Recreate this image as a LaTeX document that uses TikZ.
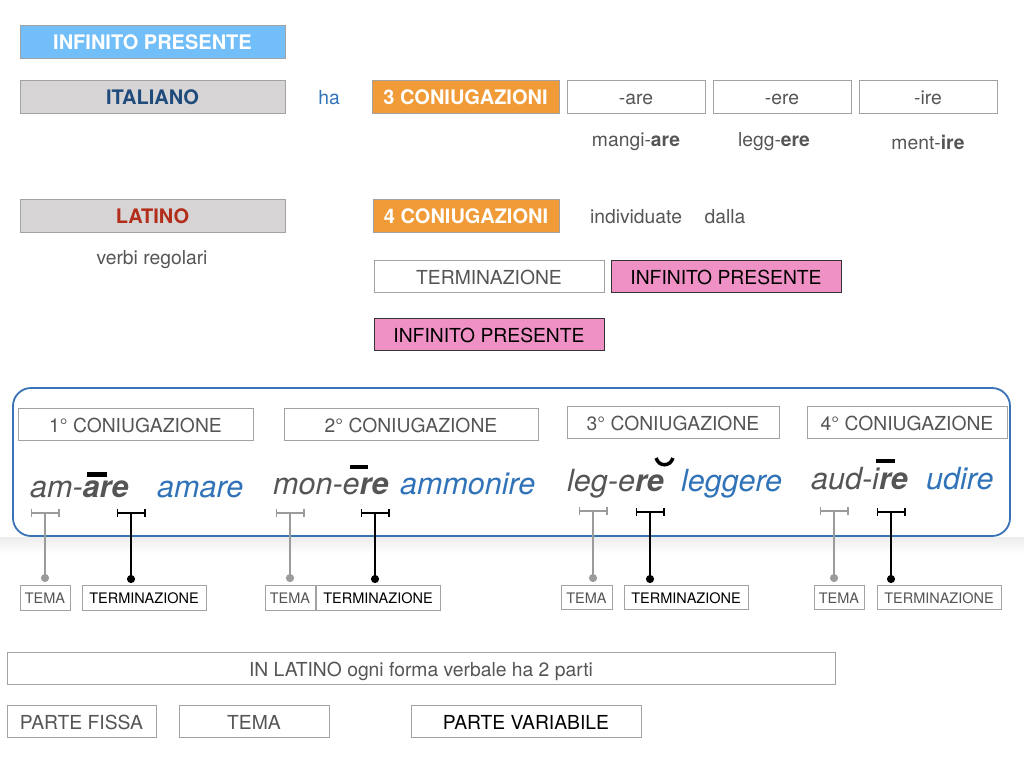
\documentclass[tikz,border=0pt]{standalone}
\usepackage{fontspec}
\setmainfont{TeX Gyre Heros}
\usetikzlibrary{arrows.meta}

\definecolor{skyblue}{HTML}{72BEF8}
\definecolor{panelgray}{HTML}{D6D4D5}
\definecolor{boxline}{HTML}{A2A2A2}
\definecolor{orangebox}{HTML}{F09B38}
\definecolor{pinkbox}{HTML}{EF91C5}
\definecolor{txtgray}{HTML}{555555}
\definecolor{lightgray}{HTML}{9B9B9B}
\definecolor{itablue}{HTML}{3173B9}
\definecolor{framblue}{HTML}{3A73B5}
\definecolor{navytxt}{HTML}{1F4A7C}
\definecolor{redtxt}{HTML}{B22D1A}

\begin{document}
\begin{tikzpicture}[x=1pt,y=-1pt,
  box/.style={draw=boxline,line width=0.8pt,fill=white,inner sep=0pt,
    minimum height=33pt,text height=16.9pt,text depth=0pt,text=txtgray,font=\fontsize{19.3}{21}\selectfont},
  headbox/.style={box,text height=16.6pt,font=\fontsize{20}{22}\selectfont\bfseries},
  smallbox/.style={box,minimum height=24.5pt,text height=11.8pt,font=\fontsize{14.5}{16}\selectfont},
  plain/.style={inner sep=0pt,text=txtgray,font=\fontsize{19.3}{21}\selectfont},
  latword/.style={inner sep=0pt,anchor=base west,text=txtgray,font=\fontsize{30.5}{32}\selectfont\itshape},
  itword/.style={latword,text=itablue},
  temabar/.style={draw=lightgray,line width=1.8pt,{Bar[width=8pt]}-{Bar[width=8pt]}},
  termbar/.style={temabar,draw=black},
  temalink/.style={draw=lightgray,line width=1.8pt,-{Circle[length=8pt]}},
  termlink/.style={temalink,draw=black}]

\useasboundingbox (0,0) rectangle (1024,768);

% italiano
\node[headbox,fill=skyblue,text=white,minimum width=265pt] (infpres) at (152.5,41.5) {INFINITO PRESENTE};
\node[headbox,fill=panelgray,text=navytxt,minimum width=265pt] (italiano) at (152.5,96.5) {ITALIANO};
\node[plain,text=itablue] (ha) at (329,98) {ha};
\node[headbox,fill=orangebox,text=white,minimum width=187pt] (tre) at (465.5,96.5) {3 CONIUGAZIONI};
\node[box,minimum width=138pt] (are) at (636,96.5) {-are};
\node[box,minimum width=138pt] (ere) at (782,96.5) {-ere};
\node[box,minimum width=138pt] (ire) at (928,96.5) {-ire};
\node[plain] (mangiare) at (636,142) {mangi-\textbf{are}};
\node[plain] (leggere) at (774,142) {legg-\textbf{ere}};
\node[plain] (mentire) at (928,142) {ment-\textbf{ire}};

% latino
\node[headbox,fill=panelgray,text=redtxt,minimum width=265pt] (latino) at (152.5,215.5) {LATINO};
\node[plain] (regolari) at (152,260) {verbi regolari};
\node[headbox,fill=orangebox,text=white,minimum width=186pt] (quattro) at (466,215.5) {4 CONIUGAZIONI};
\node[plain] (individuate) at (636,217) {individuate};
\node[plain] (dalla) at (725,217) {dalla};
\node[box,minimum width=230pt,minimum height=32pt] (termin) at (489,276) {TERMINAZIONE};
\node[box,draw=black!80,fill=pinkbox,text=black,minimum width=230pt,minimum height=32pt] (infpa) at (726,276) {INFINITO PRESENTE};
\node[box,draw=black!80,fill=pinkbox,text=black,minimum width=230pt,minimum height=32pt] (infpb) at (489,334) {INFINITO PRESENTE};

% riquadro delle coniugazioni
\shade[top color=black!7,bottom color=white] (0,537) rectangle (1024,554);
\draw[framblue,line width=1.8pt,fill=white,rounded corners=18pt] (13,388) rectangle (1010,536);
\node[box,minimum width=235pt,minimum height=32pt] (conj1) at (135.5,424) {1° CONIUGAZIONE};
\node[box,minimum width=254pt,minimum height=32pt] (conj2) at (411,424) {2° CONIUGAZIONE};
\node[box,minimum width=212pt,minimum height=32pt] (conj3) at (673,422) {3° CONIUGAZIONE};
\node[box,minimum width=200pt,minimum height=32pt] (conj4) at (907,422) {4° CONIUGAZIONE};

\node[latword] (amare) at (30,497) {am-\textbf{are}};
\node[itword] (amareit) at (157,497) {amare};
\node[latword] (monere) at (273,494) {mon-e\textbf{re}};
\node[itword] (monereit) at (400,494) {ammonire};
\node[latword] (legere) at (567,491) {leg-e\textbf{re}};
\node[itword] (legereit) at (681,491) {leggere};
\node[latword] (audire) at (811,489) {aud-i\textbf{re}};
\node[itword] (audireit) at (926,489) {udire};

% quantita
\draw[line width=4.5pt] (87,474.5) -- (107,474.5);
\draw[line width=4.5pt] (350,467) -- (368,467);
\draw[line width=3.5pt] (656,458) .. controls (659,467) and (670,467) .. (673,458);
\draw[line width=4.5pt] (876,461) -- (895,461);

% tema / terminazione
\node[smallbox,minimum width=50pt] (tema1) at (45,598) {TEMA};
\node[smallbox,minimum width=124pt,text=black] (term1) at (144,598) {TERMINAZIONE};
\node[smallbox,minimum width=50pt] (tema2) at (290,598) {TEMA};
\node[smallbox,minimum width=124pt,text=black] (term2) at (378,598) {TERMINAZIONE};
\node[smallbox,minimum width=51pt] (tema3) at (586.5,597.5) {TEMA};
\node[smallbox,minimum width=124pt,text=black] (term3) at (686,597.5) {TERMINAZIONE};
\node[smallbox,minimum width=50pt] (tema4) at (839,597.5) {TEMA};
\node[smallbox,minimum width=124pt] (term4) at (939,597.5) {TERMINAZIONE};

\coordinate (tb1) at (45,513);  \coordinate (td1) at (45,582);
\coordinate (rb1) at (131,513); \coordinate (rd1) at (131,583);
\coordinate (tb2) at (290,513); \coordinate (td2) at (290,582);
\coordinate (rb2) at (375,513); \coordinate (rd2) at (375,583);
\coordinate (tb3) at (593,511); \coordinate (td3) at (593,582);
\coordinate (rb3) at (650,512); \coordinate (rd3) at (650,583);
\coordinate (tb4) at (834,511); \coordinate (td4) at (834,582);
\coordinate (rb4) at (891,512); \coordinate (rd4) at (891,583);

\foreach \i in {1,2,3,4}{
  \draw[temabar] ([xshift=-14.5pt]tb\i) -- ([xshift=14.5pt]tb\i);
  \draw[termbar] ([xshift=-14.5pt]rb\i) -- ([xshift=14.5pt]rb\i);
  \draw[temalink] (tb\i) -- (td\i);
  \draw[termlink] (rb\i) -- (rd\i);
}

% due parti
\node[box,minimum width=828pt,minimum height=32pt] (dueparti) at (421,668) {IN LATINO ogni forma verbale ha 2 parti};
\node[box,minimum width=149pt,minimum height=32pt] (fissa) at (81.5,721) {PARTE FISSA};
\node[box,minimum width=150pt,minimum height=32pt] (tema) at (254,721) {TEMA};
\node[box,minimum width=230pt,minimum height=32pt,text=black] (variabile) at (526,721) {PARTE VARIABILE};

\end{tikzpicture}
\end{document}
